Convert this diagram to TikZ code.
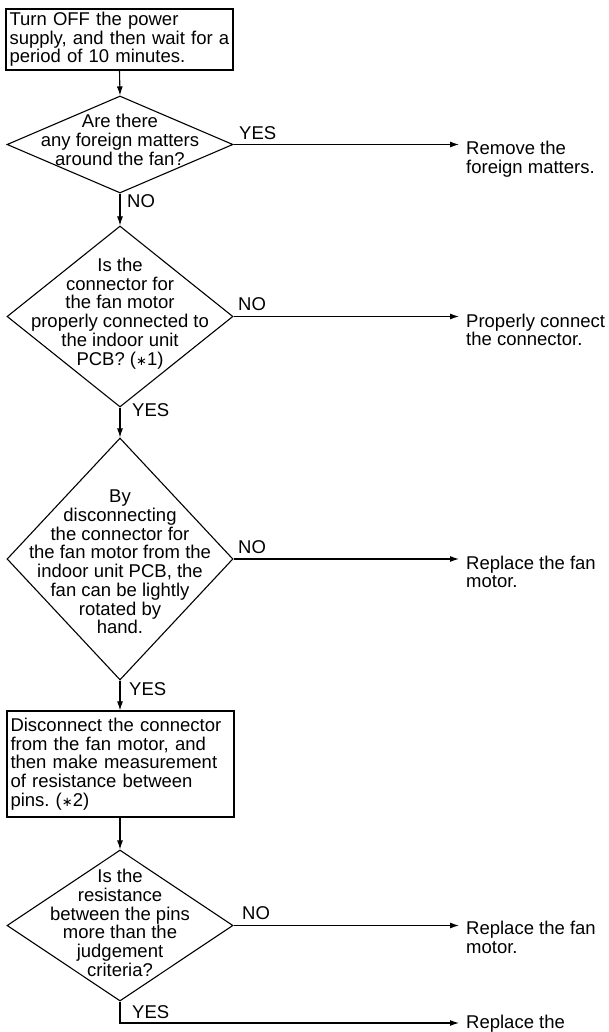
\documentclass[tikz,border=0pt]{standalone}
\usepackage{fontspec}
\setmainfont{Liberation Sans}
\newfontfamily\symfnt{DejaVu Sans}
\newcommand{\astmark}{{\symfnt\fontsize{13}{13}\selectfont ∗}}
\usetikzlibrary{shapes.geometric,arrows.meta}
\begin{document}
\frenchspacing
\begin{tikzpicture}[x=1pt,y=-1pt,
  every node/.style={font=\fontsize{18.5}{18.7}\selectfont},
  conn/.style={line width=1.1pt},
  arr/.style={conn,-{Latex[length=9pt,width=6pt]}},
  stepbox/.style={draw,line width=1.3pt,minimum width=227pt,text width=220pt,inner xsep=3.5pt,inner ysep=0pt,align=left},
  decision/.style={draw,diamond,line width=1.1pt,inner sep=0pt,minimum width=226pt},
  dtext/.style={align=center,inner sep=0pt},
  lab/.style={anchor=base west,inner sep=0pt},
  result/.style={anchor=north west,align=left,inner sep=0pt}]
\fill[white] (0,0) rectangle (609,1032);
\useasboundingbox (0,0) rectangle (609,1032);

\coordinate (tipx) at (459,0);

% step boxes
\node[stepbox,minimum height=61pt] (s1) at (119.5,39.5)
  {Turn OFF the power\\supply, and then wait for a\\period of 10 minutes.};
\node[stepbox,minimum height=106pt] (s5) at (120.5,764)
  {Disconnect the connector\\from the fan motor, and\\then make measurement\\of resistance between\\pins. (\astmark2)};

% decisions
\node[decision,minimum height=97pt] (d1) at (120,144.5) {};
\node[dtext] (d1t) at (120,140) {Are there\\any foreign matters\\around the fan?};

\node[decision,minimum height=181pt] (d2) at (120,316.5) {};
\node[dtext] (d2t) at (120,313.5) {Is the\\connector for\\the fan motor\\properly connected to\\the indoor unit\\PCB? (\astmark1)};

\node[decision,minimum height=242pt] (d3) at (120,559) {};
\node[dtext] (d3t) at (120,562) {By\\disconnecting\\the connector for\\the fan motor from the\\indoor unit PCB, the\\fan can be lightly\\rotated by\\hand.};

\node[decision,minimum height=151pt] (d6) at (120,925.5) {};
\node[dtext] (d6t) at (120,923) {Is the\\resistance\\between the pins\\more than the\\judgement\\criteria?};

% results
\node[result] (r1) at (466,141) {Remove the\\foreign matters.};
\node[result] (r2) at (466,313.5) {Properly connect\\the connector.};
\node[result] (r3) at (466,555.5) {Replace the fan\\motor.};
\node[result] (r6) at (466,921) {Replace the fan\\motor.};
\node[result] (r7) at (466,1015) {Replace the};

% labels
\node[lab] (l1y) at (239,140) {YES};
\node[lab] (l1n) at (127,208) {NO};
\node[lab] (l2n) at (238,310) {NO};
\node[lab] (l2y) at (132,416) {YES};
\node[lab] (l3n) at (238,553) {NO};
\node[lab] (l3y) at (129,695) {YES};
\node[lab] (l6n) at (242,919) {NO};
\node[lab] (l6y) at (132,1018) {YES};

% vertical flow
\draw[arr] (s1.south) -- (d1.north);
\draw[arr] (d1.south) -- (d2.north);
\draw[arr] (d2.south) -- (d3.north);
\draw[arr] (d3.south) -- (s5.north -| d3.south);
\draw[arr] (s5.south -| d6.north) -- (d6.north);

% horizontal flow
\draw[arr] (d1.east) -- (d1.east -| tipx);
\draw[arr] (d2.east) -- (d2.east -| tipx);
\draw[arr] (d3.east) -- (d3.east -| tipx);
\draw[arr] (d6.east) -- (d6.east -| tipx);
\coordinate (b6) at (120,1023);
\draw[arr] (d6.south) -- (b6) -- (b6 -| tipx);
\end{tikzpicture}
\end{document}
